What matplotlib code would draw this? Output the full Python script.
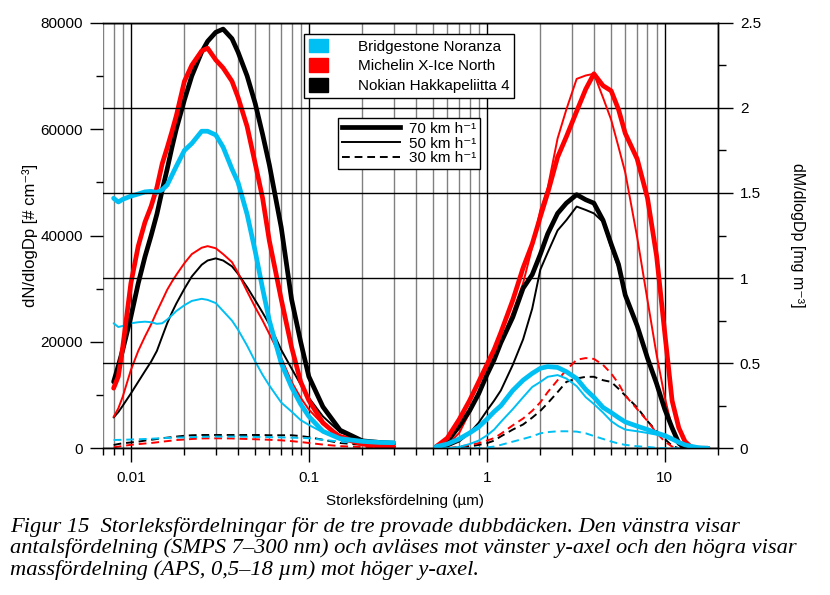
import matplotlib
matplotlib.use('Agg')
import matplotlib.pyplot as plt
import matplotlib.ticker as ticker
from matplotlib.patches import Patch
from matplotlib.lines import Line2D

plt.rcParams['font.family'] = ['Liberation Sans', 'DejaVu Sans']
plt.rcParams['mathtext.default'] = 'regular'

# SMPS number distribution, left axis (# cm-3)
smps_d = [0.008, 0.0085, 0.009, 0.01, 0.011, 0.012, 0.013, 0.014, 0.015, 0.016, 0.017,
          0.018, 0.02, 0.022, 0.025, 0.027, 0.03, 0.033, 0.037, 0.04, 0.045, 0.05, 0.055,
          0.06, 0.07, 0.08, 0.09, 0.1, 0.12, 0.15, 0.2, 0.25, 0.3]
smps_bridgestone_70 = [47000, 46300, 46800, 47400, 47800, 48200, 48300, 48100, 48600, 49500, 51300,
                       53000, 56000, 57300, 59600, 59600, 58900, 56600, 52500, 50000, 44000, 37000, 30000,
                       24000, 16000, 11500, 8300, 6000, 3200, 1800, 1300, 1100, 1050]
smps_michelin_70 = [11300, 13500, 19000, 31000, 38000, 42500, 45500, 49000, 53500, 56500, 59500,
                    62500, 69000, 72000, 74700, 75200, 73000, 71500, 69000, 66000, 60500, 53500, 47000,
                    39000, 28000, 19000, 12500, 9000, 4800, 2000, 800, 400, 300]
smps_nokian_70 = [12500, 15500, 18500, 24700, 31000, 36000, 40000, 44000, 48500, 52500, 56500,
                  60000, 65500, 70000, 74500, 76500, 78200, 78800, 77000, 74500, 70000, 64800, 59000,
                  53300, 41500, 28000, 20000, 13500, 7800, 3400, 1400, 1100, 950]
smps_bridgestone_50 = [23500, 22800, 23000, 23500, 23700, 23800, 23700, 23400, 23500, 24200, 25000,
                       25800, 26900, 27700, 28100, 27900, 27300, 25800, 24000, 22300, 19300, 16300, 13800,
                       11800, 8600, 6900, 5300, 4400, 3000, 2000, 1400, 1000, 940]
smps_michelin_50 = [5900, 7500, 9700, 14700, 18300, 21000, 23300, 25700, 27800, 29800, 31300,
                    32600, 34800, 36500, 37700, 38000, 37600, 36500, 35000, 33000, 29500, 26500, 24000,
                    21500, 17000, 12500, 9500, 7300, 4500, 2500, 1400, 1000, 900]
smps_nokian_50 = [5800, 6800, 8000, 10300, 12500, 14500, 16300, 18300, 21000, 23500, 25500,
                  27200, 30000, 32300, 34500, 35300, 35700, 35300, 34200, 32800, 30300, 27800, 25500,
                  23300, 18500, 15000, 12000, 9500, 6000, 3000, 1600, 1100, 950]
smps_bridgestone_30 = [1560, 1580, 1600, 1650, 1700, 1750, 1800, 1850, 1900, 1950, 2000,
                       2020, 2050, 2100, 2150, 2180, 2200, 2200, 2200, 2200, 2180, 2150, 2120,
                       2100, 2050, 2000, 1950, 1900, 1600, 1250, 950, 850, 810]
smps_michelin_30 = [190, 300, 450, 650, 780, 900, 1000, 1120, 1250, 1350, 1450,
                    1550, 1650, 1750, 1850, 1870, 1880, 1870, 1850, 1800, 1750, 1700, 1650,
                    1600, 1500, 1350, 1180, 1000, 700, 400, 250, 220, 200]
smps_nokian_30 = [620, 800, 950, 1100, 1250, 1450, 1600, 1750, 1900, 2000, 2100,
                  2200, 2350, 2450, 2500, 2500, 2500, 2500, 2500, 2500, 2500, 2500, 2500,
                  2450, 2450, 2450, 2300, 2100, 1600, 1000, 650, 500, 430]

# APS mass distribution, right axis (mg m-3)
aps_d = [0.52, 0.6, 0.7, 0.8, 0.9, 1.0, 1.1, 1.2, 1.4, 1.6, 1.8, 2.0, 2.2, 2.5, 2.8, 3.2, 3.6,
         4.0, 4.5, 5.0, 5.5, 6.0, 7.0, 8.0, 9.0, 10, 11, 12, 13, 14, 15, 16, 17.5]
aps_bridgestone_70 = [0.01, 0.025, 0.055, 0.09, 0.125, 0.17, 0.215, 0.25, 0.34, 0.40, 0.44, 0.47, 0.48,
                      0.475, 0.45, 0.41, 0.345, 0.30, 0.24, 0.21, 0.18, 0.155, 0.13, 0.11, 0.09, 0.075,
                      0.055, 0.035, 0.02, 0.012, 0.006, 0.002, 0.0]
aps_michelin_70 = [0.01, 0.06, 0.17, 0.28, 0.39, 0.49, 0.58, 0.68, 0.87, 1.06, 1.20, 1.36, 1.50,
                   1.71, 1.83, 1.98, 2.11, 2.20, 2.13, 2.10, 1.99, 1.85, 1.70, 1.47, 1.13, 0.68,
                   0.28, 0.12, 0.04, 0.01, 0.0, 0.0, 0.0]
aps_nokian_70 = [0.01, 0.04, 0.13, 0.22, 0.32, 0.43, 0.52, 0.62, 0.77, 0.94, 1.02, 1.14, 1.26,
                 1.38, 1.44, 1.49, 1.46, 1.44, 1.34, 1.20, 1.08, 0.90, 0.72, 0.53, 0.38, 0.23,
                 0.12, 0.03, 0.0, 0.0, 0.0, 0.0, 0.0]
aps_bridgestone_50 = [0.0, 0.0, 0.008, 0.025, 0.045, 0.075, 0.11, 0.155, 0.23, 0.30, 0.36, 0.39, 0.42,
                      0.43, 0.41, 0.365, 0.30, 0.26, 0.21, 0.16, 0.13, 0.11, 0.10, 0.09, 0.08, 0.065,
                      0.05, 0.035, 0.02, 0.005, 0.0, 0.0, 0.0]
aps_michelin_50 = [0.0, 0.02, 0.09, 0.21, 0.32, 0.45, 0.52, 0.62, 0.80, 0.97, 1.18, 1.40, 1.53,
                   1.82, 1.99, 2.17, 2.19, 2.20, 2.06, 1.93, 1.77, 1.62, 1.24, 0.87, 0.55, 0.30,
                   0.12, 0.04, 0.01, 0.0, 0.0, 0.0, 0.0]
aps_nokian_50 = [0.0, 0.01, 0.04, 0.09, 0.15, 0.22, 0.28, 0.34, 0.49, 0.64, 0.82, 1.05, 1.15,
                 1.28, 1.34, 1.42, 1.40, 1.38, 1.33, 1.18, 1.06, 0.89, 0.71, 0.52, 0.37, 0.22,
                 0.11, 0.03, 0.0, 0.0, 0.0, 0.0, 0.0]
aps_bridgestone_30 = [0.0, 0.0, 0.0, 0.0, 0.0, 0.005, 0.01, 0.02, 0.039, 0.055, 0.07, 0.088, 0.095,
                      0.10, 0.10, 0.098, 0.088, 0.072, 0.055, 0.04, 0.028, 0.02, 0.012, 0.008, 0.003, 0.0,
                      0.0, 0.0, 0.0, 0.0, 0.0, 0.0, 0.0]
aps_michelin_30 = [0.0, 0.0, 0.01, 0.02, 0.03, 0.045, 0.06, 0.085, 0.135, 0.175, 0.22, 0.27, 0.33,
                   0.40, 0.46, 0.52, 0.53, 0.525, 0.49, 0.44, 0.38, 0.31, 0.23, 0.16, 0.09, 0.04,
                   0.01, 0.0, 0.0, 0.0, 0.0, 0.0, 0.0]
aps_nokian_30 = [0.0, 0.0, 0.0, 0.01, 0.02, 0.03, 0.045, 0.07, 0.11, 0.14, 0.18, 0.22, 0.265,
                 0.33, 0.39, 0.41, 0.42, 0.42, 0.40, 0.39, 0.35, 0.31, 0.24, 0.16, 0.10, 0.055,
                 0.015, 0.0, 0.0, 0.0, 0.0, 0.0, 0.0]

tires = ['Bridgestone Noranza', 'Michelin X-Ice North', 'Nokian Hakkapeliitta 4']
tire_colors = ['#00BFF3', '#FF0000', '#000000']
speed_labels = ['70 km h⁻¹', '50 km h⁻¹', '30 km h⁻¹']

smps = {70: [smps_bridgestone_70, smps_michelin_70, smps_nokian_70],
        50: [smps_bridgestone_50, smps_michelin_50, smps_nokian_50],
        30: [smps_bridgestone_30, smps_michelin_30, smps_nokian_30]}
aps = {70: [aps_bridgestone_70, aps_michelin_70, aps_nokian_70],
       50: [aps_bridgestone_50, aps_michelin_50, aps_nokian_50],
       30: [aps_bridgestone_30, aps_michelin_30, aps_nokian_30]}
styles = {70: dict(lw=3.4, ls='-'), 50: dict(lw=1.4, ls='-'), 30: dict(lw=1.4, ls=(0, (4, 2.5)))}

fig = plt.figure(figsize=(8.3, 5.95), dpi=100)
ax = fig.add_axes([103.3 / 830, 1 - 448.3 / 595, 615 / 830, 425.6 / 595])
ax2 = ax.twinx()

for spd in [30, 50, 70]:
    for k in [2, 1, 0]:
        kw = dict(color=tire_colors[k], solid_capstyle='round', solid_joinstyle='round', **styles[spd])
        ax.plot(smps_d, smps[spd][k], **kw)
        ax2.plot(aps_d, aps[spd][k], **kw)

ax.set_xscale('log')
ax.set_xlim(0.007, 20)
ax.set_ylim(0, 80000)
ax2.set_ylim(0, 2.5)

ax.xaxis.set_major_locator(ticker.FixedLocator([0.01, 0.1, 1, 10]))
ax.xaxis.set_major_formatter(ticker.FixedFormatter(['0.01', '0.1', '1', '10']))
ax.xaxis.set_minor_locator(ticker.LogLocator(base=10, subs=range(2, 10), numticks=20))
ax.xaxis.set_minor_formatter(ticker.NullFormatter())
ax.yaxis.set_major_locator(ticker.MultipleLocator(20000))
ax.yaxis.set_minor_locator(ticker.MultipleLocator(10000))
ax2.yaxis.set_major_locator(ticker.MultipleLocator(0.5))
ax2.yaxis.set_minor_locator(ticker.MultipleLocator(0.25))
ax2.yaxis.set_major_formatter(ticker.FuncFormatter(lambda v, p: '%g' % v))

ax.grid(which='major', axis='x', color='black', lw=1)
ax.grid(which='minor', axis='x', color='#808080', lw=1)
ax2.grid(which='major', axis='y', color='black', lw=1)
ax.set_axisbelow(True)

for a in (ax, ax2):
    a.spines['left'].set_visible(False)
    for s in ['right', 'top', 'bottom']:
        a.spines[s].set_linewidth(1)

ax.tick_params(axis='x', which='major', length=10, width=1, labelsize=11, pad=6)
ax.tick_params(axis='x', which='minor', length=5, width=1)
ax.tick_params(axis='y', which='major', length=9.5, width=1, labelsize=11, pad=5)
ax.tick_params(axis='y', which='minor', length=4.8, width=1)
ax2.tick_params(axis='y', which='major', length=10.5, width=1, labelsize=11, pad=5)
ax2.tick_params(axis='y', which='minor', length=5.5, width=1)

ax.set_xlabel('Storleksfördelning (µm)', fontsize=11)
ax.xaxis.set_label_coords(0.49, -0.107)
ax.set_ylabel('dN/dlogDp [# cm⁻³]', fontsize=12)
ax.yaxis.set_label_coords(-0.106, 0.5)
ax2.set_ylabel('dM/dlogDp [mg m⁻³]', fontsize=11.5, rotation=-90, va='center')
ax2.yaxis.set_label_coords(1.128, 0.5)

tire_handles = [Patch(facecolor=c, edgecolor=c) for c in tire_colors]
leg1 = ax2.legend(tire_handles, tires, loc='upper left',
                  bbox_to_anchor=(304 / 830, 1 - 34 / 595), bbox_transform=fig.transFigure,
                  borderaxespad=0, fontsize=11, frameon=True, fancybox=False, framealpha=1,
                  edgecolor='black', handlelength=1.25, handleheight=1.0, handletextpad=2.0,
                  labelspacing=0.3, borderpad=0.3)
leg1.get_frame().set_linewidth(1)
ax2.add_artist(leg1)

speed_handles = [Line2D([], [], color='black', **styles[s]) for s in [70, 50, 30]]
leg2 = ax2.legend(speed_handles, speed_labels, loc='upper left',
                  bbox_to_anchor=(338 / 830, 1 - 118 / 595), bbox_transform=fig.transFigure,
                  borderaxespad=0, fontsize=11, frameon=True, fancybox=False, framealpha=1,
                  edgecolor='black', handlelength=3.8, handletextpad=0.6,
                  labelspacing=0.05, borderpad=0.25)
leg2.get_frame().set_linewidth(1)

caption = ('Figur 15  Storleksfördelningar för de tre provade dubbdäcken. Den vänstra visar\n'
           'antalsfördelning (SMPS 7–300 nm) och avläses mot vänster y-axel och den högra visar\n'
           'massfördelning (APS, 0,5–18 µm) mot höger y-axel.')
fig.text(10 / 830, 1 - 517 / 595, caption, fontsize=16.2, family=['Liberation Serif', 'DejaVu Serif'],
         style='italic', va='top', ha='left', linespacing=1.1)

fig.savefig('out.png', dpi=100)
